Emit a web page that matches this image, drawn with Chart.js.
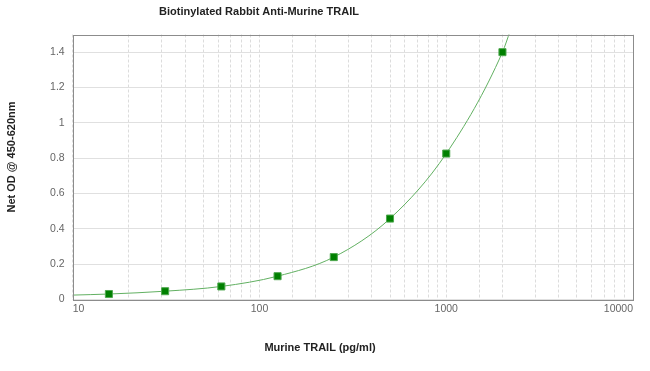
<!DOCTYPE html>
<html>
<head>
<meta charset="utf-8">
<script src="https://cdn.jsdelivr.net/npm/chart.js@4/dist/chart.umd.min.js"></script>
<style>
  html, body { margin: 0; padding: 0; background: #fff; }
  #wrap { width: 650px; height: 371px; }
</style>
</head>
<body>
<div id="wrap"><canvas id="odChart" width="650" height="371"></canvas></div>
<script>
// standard points (pg/ml) and net OD
const concentrations = [15.625, 31.25, 62.5, 125, 250, 500, 1000, 2000];
const netOD = [0.031, 0.047, 0.074, 0.132, 0.240, 0.458, 0.826, 1.40];

// fitted curve
const curveX = [10, 15.625, 31.25, 62.5, 125, 250, 500, 1000, 2000, 2200];
const curveY = [0.025, 0.031, 0.047, 0.074, 0.132, 0.240, 0.458, 0.826, 1.40, 1.52];

const chartTitle = "Biotinylated Rabbit Anti-Murine TRAIL";
const xTitle = "Murine TRAIL (pg/ml)";
const yTitle = "Net OD @ 450-620nm";

const FONT = "Arial, 'Liberation Sans', sans-serif";

// frame round the plot + the three titles
const framePlugin = {
  id: "frame",
  afterDraw(chart) {
    const { ctx, chartArea: a } = chart;
    ctx.save();
    ctx.strokeStyle = "#8c8c8c";
    ctx.lineWidth = 1;
    ctx.strokeRect(Math.round(a.left) + 0.5, Math.round(a.top) + 0.5,
      Math.round(a.right - a.left), Math.round(a.bottom - a.top));

    ctx.fillStyle = "#222";
    ctx.font = "bold 11px " + FONT;
    ctx.textAlign = "center";
    ctx.textBaseline = "middle";
    ctx.fillText(chartTitle, 259, 12);
    ctx.fillText(xTitle, 320, 348);

    ctx.translate(12, 157);
    ctx.rotate(-Math.PI / 2);
    ctx.fillText(yTitle, 0, 0);
    ctx.restore();
  }
};

new Chart(document.getElementById("odChart"), {
  type: "scatter",
  data: {
    datasets: [{
      label: "Standards",
      data: concentrations.map((x, i) => ({ x: x, y: netOD[i] })),
      pointStyle: "rect",
      pointRadius: 5,
      pointBackgroundColor: "#008000",
      pointBorderColor: "#4fa84f",
      pointBorderWidth: 1,
      showLine: false,
      order: 0
    }, {
      label: "Fit",
      data: curveX.map((x, i) => ({ x: x, y: curveY[i] })),
      showLine: true,
      borderColor: "#62b062",
      borderWidth: 1,
      pointRadius: 0,
      cubicInterpolationMode: "monotone",
      order: 1
    }]
  },
  options: {
    responsive: false,
    animation: false,
    layout: { padding: { top: 34.5, right: 17, left: 0, bottom: 0 } },
    plugins: {
      legend: { display: false },
      tooltip: { enabled: false },
      title: { display: false }
    },
    scales: {
      x: {
        type: "logarithmic",
        min: 10,
        max: 10000,
        afterFit(scale) { scale.height = 71.5; },
        grid: { color: "#dcdcdc", lineWidth: 1, drawTicks: false },
        border: { display: false, dash: [3, 2] },
        ticks: {
          autoSkip: false,
          maxRotation: 0,
          align: "inner",
          padding: 3,
          color: "#666",
          font: { family: FONT, size: 10.5 },
          callback: function (v) {
            const l = Math.log10(v);
            return Math.abs(l - Math.round(l)) < 1e-9 ? String(v) : "";
          }
        }
      },
      y: {
        min: 0,
        max: 1.5,
        afterFit(scale) { scale.width = 72.7; },
        grid: { color: "#e0e0e0", lineWidth: 1, drawTicks: false },
        border: { display: false },
        ticks: {
          stepSize: 0.2,
          includeBounds: false,
          padding: 8,
          color: "#666",
          font: { family: FONT, size: 10.5 },
          callback: v => String(Number(v.toFixed(1)))
        }
      }
    }
  },
  plugins: [framePlugin]
});
</script>
</body>
</html>
